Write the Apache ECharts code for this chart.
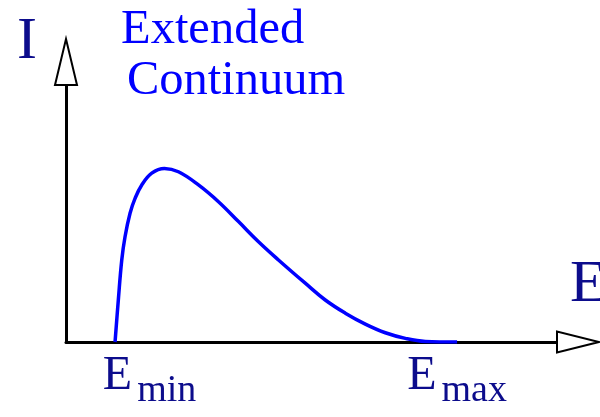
<!DOCTYPE html>
<html>
<head>
<meta charset="utf-8">
<script src="https://cdn.jsdelivr.net/npm/echarts@6/dist/echarts.min.js"></script>
<style>
  html, body { margin: 0; padding: 0; background: #fff; }
  #main { width: 600px; height: 417px; }
</style>
</head>
<body>
<div id="main"></div>
<script>
// spectrum shape (arbitrary units, axes 0..10)
const energy    = [0.958, 1.022, 1.089, 1.153, 1.251, 1.349, 1.480, 1.675, 1.922, 2.196, 2.587, 2.978, 3.369, 3.760, 4.150, 4.673, 5.064, 5.455, 5.846, 6.237, 6.628, 7.019, 7.638];
const intensity = [0, 1.50, 2.93, 3.76, 4.60, 5.13, 5.61, 6.03, 6.20, 6.08, 5.61, 5.01, 4.30, 3.58, 2.93, 2.10, 1.50, 1.03, 0.64, 0.33, 0.13, 0.02, 0];
// marked energies on the x axis
const tickValues = [0.958, 7.638];
const tickSubs = ['min', 'max'];

const serif = "'Liberation Serif', 'Times New Roman', serif";
const navy = '#0c0c8c';

const chart = echarts.init(document.getElementById('main'));

chart.setOption({
	animation: false,
	backgroundColor: '#fff',
	title: {
		left: 121,
		top: 5,
		padding: 0,
		text: '{a|Extended}\n{b|Continuum}',
		textStyle: {
			fontWeight: 'normal',
			rich: {
				a: { fontFamily: serif, fontSize: 48.5, fontWeight: 'normal', lineHeight: 51, color: '#0000ff' },
				b: { fontFamily: serif, fontSize: 48.5, fontWeight: 'normal', lineHeight: 51, color: '#0000ff', padding: [0, 0, 0, 6] }
			}
		}
	},
	grid: { left: 66, right: 22, top: 62, bottom: 75, outerBoundsMode: 'none' },
	xAxis: {
		type: 'value',
		min: 0,
		max: 10,
		name: 'E',
		nameLocation: 'end',
		nameGap: -8,
		nameMoveOverlap: false,
		nameTextStyle: {
			fontFamily: serif, fontSize: 60, lineHeight: 60, color: navy,
			align: 'left', verticalAlign: 'bottom', padding: [0, 0, 27, 0]
		},
		axisLine: {
			show: true,
			lineStyle: { color: '#000', width: 3 },
			symbol: ['none', 'emptyTriangle'],
			symbolSize: [21, 42]
		},
		axisTick: { show: false },
		splitLine: { show: false },
		axisLabel: {
			customValues: tickValues,
			margin: 10,
			formatter: (v) => {
				const idx = tickValues.indexOf(v);
				const pad = idx === 0 ? '{pad|}' : '';
				return pad + '{e|E}{s|' + tickSubs[idx] + '}';
			},
			rich: {
				pad: { width: 69 },
				e: { fontFamily: serif, fontSize: 48, lineHeight: 48, color: navy, verticalAlign: 'top' },
				s: { fontFamily: serif, fontSize: 38, lineHeight: 38, color: navy, verticalAlign: 'top', padding: [20, 0, 0, 5] }
			}
		}
	},
	yAxis: {
		type: 'value',
		min: 0,
		max: 10,
		name: 'I',
		nameLocation: 'end',
		nameGap: -10,
		nameMoveOverlap: false,
		nameTextStyle: {
			fontFamily: serif, fontSize: 60, lineHeight: 60, color: navy,
			align: 'center', verticalAlign: 'bottom', padding: [0, 78, 0, 0]
		},
		axisLine: {
			show: true,
			lineStyle: { color: '#000', width: 3 },
			symbol: ['none', 'emptyTriangle'],
			symbolSize: [22, 46]
		},
		axisTick: { show: false },
		axisLabel: { show: false },
		splitLine: { show: false }
	},
	series: [{
		type: 'line',
		data: energy.map((e, i) => [e, intensity[i]]),
		smooth: 0.4,
		showSymbol: false,
		lineStyle: { color: '#0000ff', width: 3.5 },
		z: 1
	}]
});
</script>
</body>
</html>
